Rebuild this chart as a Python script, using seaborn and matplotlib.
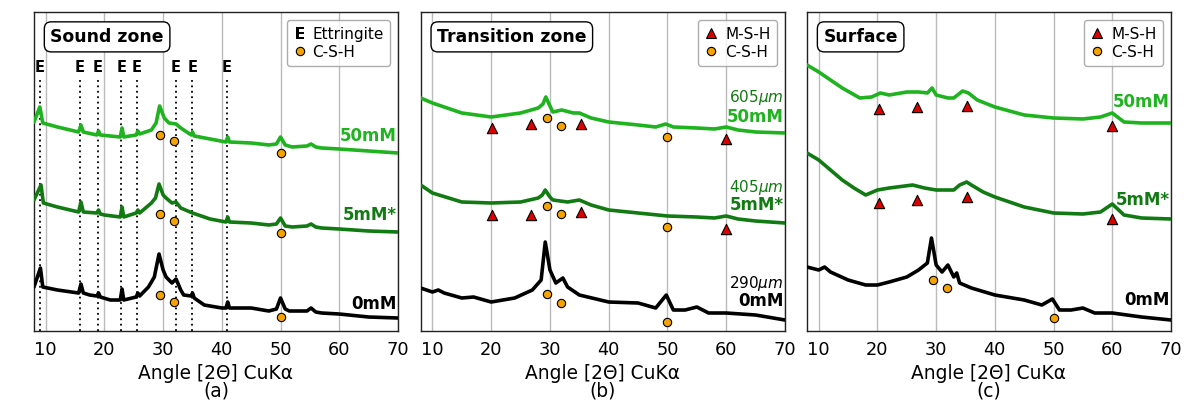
import matplotlib
matplotlib.use("Agg")
import matplotlib.pyplot as plt
import seaborn as sns
from matplotlib.lines import Line2D

# ---------------- data (arbitrary counts) ----------------
TICKS = [10, 20, 30, 40, 50, 60, 70]
E_ANGLES = [9.0, 15.8, 18.9, 22.9, 25.5, 32.2, 35.0, 40.9]
CSH_ANGLES = [29.5, 31.8, 50.0]
MSH_ANGLES = [20.2, 26.8, 35.2, 60.0]

# (a) Sound zone
SOUND_50_ANGLE = [8, 9, 9.5, 12, 15.6, 16, 16.4, 18.7, 19, 19.3, 22.7, 23, 23.3, 25.4, 25.7, 26, 28, 28.8, 29.4,
                  30.2, 31, 32.2, 33, 34.8, 35, 35.3, 38, 40.7, 41, 41.3, 45, 48, 49.3, 50, 50.8, 52, 54.5, 55.2,
                  56, 57, 60, 65, 70]
SOUND_50_COUNTS = [209, 224, 208, 204, 199, 206, 199, 196, 200, 196, 194, 203, 194, 196, 200, 197, 201, 208, 225,
                   213, 208, 207, 203, 196, 199, 195, 192, 189, 194, 189, 188, 186, 187, 194, 186, 184, 185, 187,
                   184, 183, 182, 180, 178]
SOUND_5_ANGLE = [8, 9.2, 9.6, 12, 15.6, 16, 16.4, 18.7, 19, 19.3, 20, 22.7, 23, 23.3, 25.4, 25.7, 26, 28, 28.7,
                 29.3, 30, 30.5, 31.5, 32.2, 33, 35, 38, 40.7, 41, 41.3, 45, 48, 49.3, 50, 50.8, 52, 54.5, 55.2,
                 56, 57, 60, 65, 70]
SOUND_5_COUNTS = [131, 146, 128, 124, 119, 129, 119, 118, 121, 117, 116, 114, 124, 114, 118, 121, 118, 128, 133,
                  147, 136, 133, 128, 129, 123, 118, 112, 109, 114, 109, 108, 106, 107, 113, 105, 104, 105, 107,
                  104, 103, 102, 100, 99]
SOUND_0_ANGLE = [8, 9.1, 9.5, 12, 15.6, 16, 16.4, 17.5, 18.7, 19, 19.3, 21, 22.7, 23, 23.3, 25.4, 25.7, 26, 27.5,
                 28.5, 29.3, 30, 30.5, 31.5, 32.2, 33, 33.5, 34.8, 35, 35.3, 37, 40, 40.7, 41, 41.3, 45, 48, 49.3,
                 50, 50.8, 51.5, 54.5, 55.2, 56, 57, 60, 65, 70]
SOUND_0_COUNTS = [44, 63, 44, 41, 38, 47, 38, 36, 35, 38, 34, 31, 31, 42, 31, 34, 38, 35, 44,
                  54, 77, 61, 54, 48, 52, 41, 36, 35, 38, 33, 26, 23, 23, 29, 23, 23, 20, 22,
                  33, 22, 20, 20, 23, 19, 18, 17, 14, 13]
SOUND_50_CSH = [196, 190, 178]
SOUND_5_CSH = [117, 110, 98]
SOUND_0_CSH = [36, 29, 14]

# (b) Transition zone
TRANS_50_ANGLE = [8, 10, 15, 20, 25, 28, 28.8, 29.3, 30, 30.5, 32, 34, 35, 37, 40, 45, 48, 49.7, 51, 55, 58, 60,
                  62, 65, 70]
TRANS_50_COUNTS = [233, 228, 218, 214, 218, 223, 227, 234, 225, 219, 221, 218, 218, 213, 209, 206, 204, 207, 204,
                   203, 202, 204, 201, 199, 198]
TRANS_5_ANGLE = [8, 10, 15, 20, 25, 28, 28.7, 29.2, 30, 30.5, 33, 35, 37, 40, 45, 50, 55, 58, 60, 62, 65, 70]
TRANS_5_COUNTS = [146, 138, 129, 128, 129, 133, 136, 141, 134, 131, 129, 131, 126, 121, 118, 115, 114, 113, 115,
                  112, 110, 108]
TRANS_0_ANGLE = [8, 10, 11, 12, 15, 17, 20, 24, 27, 28.5, 29.2, 30, 31, 32.2, 33, 35, 40, 45, 48, 49.8, 51, 53,
                 55, 57, 60, 65, 70]
TRANS_0_COUNTS = [43, 39, 41, 38, 33, 34, 29, 33, 41, 51, 89, 61, 48, 53, 44, 36, 29, 28, 23, 36, 21, 21,
                  24, 18, 18, 16, 11]
TRANS_50_MSH = [203, 207, 207, 192]
TRANS_5_MSH = [116, 116, 119, 102]
TRANS_50_CSH = [213, 205, 194]
TRANS_5_CSH = [125, 117, 104]
TRANS_0_CSH = [37, 28, 9]

# (c) Surface
SURF_50_ANGLE = [8, 10, 12, 14, 17, 19, 20.5, 22, 25, 27, 28.5, 29.3, 30, 32, 33, 34.5, 35.5, 37, 40, 45, 50, 55,
                 58, 60, 62, 65, 70]
SURF_50_COUNTS = [266, 259, 251, 243, 233, 234, 238, 236, 239, 239, 238, 243, 236, 233, 233, 240, 238, 231, 224,
                  216, 213, 212, 214, 218, 209, 208, 208]
SURF_5_ANGLE = [8, 10, 12, 14, 16, 18, 20, 22, 26, 28, 30, 33, 34, 35.2, 36, 38, 40, 45, 50, 55, 58, 60, 62, 65, 70]
SURF_5_COUNTS = [178, 171, 161, 151, 143, 136, 141, 143, 146, 143, 141, 141, 146, 149, 146, 139, 134, 124, 118,
                 117, 119, 127, 116, 113, 112]
SURF_0_ANGLE = [8, 10, 11, 12, 15, 18, 20, 22, 25, 27, 28.5, 29.2, 30, 31, 32, 33, 33.5, 34, 36, 40, 45, 48, 49.8,
                51, 53, 55, 57, 60, 65, 70]
SURF_0_COUNTS = [64, 61, 64, 59, 51, 46, 46, 49, 54, 61, 68, 93, 66, 59, 66, 54, 58, 48, 43, 36, 31, 26, 32,
                 21, 21, 23, 18, 18, 14, 11]
SURF_50_MSH = [222, 224, 225, 205]
SURF_5_MSH = [128, 131, 134, 112]
SURF_0_CSH = [51, 43, 13]

LIGHT = "#1fb31f"
DARK = "#127a12"
BLACK = "#000000"
ORANGE = "#f5a300"
RED = "#dd0000"

# ---------------- figure ----------------
sns.set_style("white")
plt.rcParams["font.family"] = ["DejaVu Sans"]
plt.rcParams["mathtext.fontset"] = "dejavusans"
plt.rcParams["text.color"] = "black"
plt.rcParams["axes.labelcolor"] = "black"
plt.rcParams["xtick.color"] = "black"

fig = plt.figure(figsize=(11.84, 4.05), dpi=100)
positions = [(0.0287, 0.1827, 0.3074, 0.7877),
             (0.3553, 0.1827, 0.3077, 0.7877),
             (0.6816, 0.1827, 0.3074, 0.7877)]
axes = [fig.add_axes(p) for p in positions]

LW = 2.6


def line(ax, x, y, c):
    sns.lineplot(x=x, y=y, ax=ax, color=c, lw=LW, sort=False, estimator=None, zorder=3)


def csh(ax, y):
    sns.scatterplot(x=CSH_ANGLES, y=y, ax=ax, marker="o", s=36, color=ORANGE,
                    edgecolor="black", linewidth=0.8, zorder=5)


def msh(ax, y):
    sns.scatterplot(x=MSH_ANGLES, y=y, ax=ax, marker="^", s=55, color=RED,
                    edgecolor="black", linewidth=0.8, zorder=5)


def setup(ax, letter, title):
    ax.set_xlim(8, 70)
    ax.set_ylim(0, 319)
    ax.set_xticks(TICKS)
    ax.set_xticklabels([str(t) for t in TICKS], fontsize=12.8)
    ax.set_yticks([])
    ax.grid(axis="x", color="#bbbbbb", lw=1.0, zorder=0)
    ax.set_axisbelow(True)
    ax.tick_params(axis="x", direction="out", length=4, width=1, colors="black", pad=3.5)
    for s in ax.spines.values():
        s.set_color("#222222")
        s.set_linewidth(1.0)
    ax.set_xlabel("Angle [2Θ] CuKα\n(" + letter + ")", fontsize=13.4, linespacing=0.95, labelpad=3,
                  color="black")
    ax.text(0.045, 0.922, title, transform=ax.transAxes, fontsize=12.4, fontweight="bold",
            va="center", ha="left", zorder=10, color="black",
            bbox=dict(boxstyle="round,pad=0.35,rounding_size=0.4", fc="white", ec="black", lw=1.0))


def label(ax, y, txt, c, bold=True, size=12):
    ax.text(69.8, y, txt, color=c, fontsize=size, fontweight="bold" if bold else "normal",
            ha="right", va="center", zorder=6)


# (a)
ax = axes[0]
setup(ax, "a", "Sound zone")
for e in E_ANGLES:
    ax.plot([e, e], [0, 253], ls=(0, (1, 2)), color="black", lw=1.3, zorder=2)
    ax.text(e, 263, "E", fontsize=10.5, fontweight="bold", ha="center", va="center", color="black")
line(ax, SOUND_50_ANGLE, SOUND_50_COUNTS, LIGHT)
line(ax, SOUND_5_ANGLE, SOUND_5_COUNTS, DARK)
line(ax, SOUND_0_ANGLE, SOUND_0_COUNTS, BLACK)
csh(ax, SOUND_50_CSH)
csh(ax, SOUND_5_CSH)
csh(ax, SOUND_0_CSH)
label(ax, 195, "50mM", LIGHT)
label(ax, 116, "5mM*", DARK)
label(ax, 27, "0mM", BLACK)
ax.set_ylabel("Counts [a.u.]", fontsize=12.8, labelpad=4, color="black")
h_a = [Line2D([], [], ls="none", marker="$\\mathbf{E}$", color="black", mew=0, markersize=9),
       Line2D([], [], ls="none", marker="o", mfc=ORANGE, mec="black", mew=0.8, markersize=6)]
leg = ax.legend(h_a, ["Ettringite", "C-S-H"], loc="upper right", fontsize=11, handlelength=0.8,
                handletextpad=0.4, borderpad=0.45, labelspacing=0.2, frameon=True, fancybox=True)
leg.get_frame().set_edgecolor("#999999")
leg.set_zorder(10)

# (b)
ax = axes[1]
setup(ax, "b", "Transition zone")
line(ax, TRANS_50_ANGLE, TRANS_50_COUNTS, LIGHT)
line(ax, TRANS_5_ANGLE, TRANS_5_COUNTS, DARK)
line(ax, TRANS_0_ANGLE, TRANS_0_COUNTS, BLACK)
msh(ax, TRANS_50_MSH)
msh(ax, TRANS_5_MSH)
csh(ax, TRANS_50_CSH)
csh(ax, TRANS_5_CSH)
csh(ax, TRANS_0_CSH)
label(ax, 233, "605$\\mu m$", DARK, bold=False, size=11)
label(ax, 214, "50mM", LIGHT)
label(ax, 143, "405$\\mu m$", DARK, bold=False, size=11)
label(ax, 126, "5mM*", DARK)
label(ax, 48, "290$\\mu m$", BLACK, bold=False, size=11)
label(ax, 30, "0mM", BLACK)

# (c)
ax = axes[2]
setup(ax, "c", "Surface")
line(ax, SURF_50_ANGLE, SURF_50_COUNTS, LIGHT)
line(ax, SURF_5_ANGLE, SURF_5_COUNTS, DARK)
line(ax, SURF_0_ANGLE, SURF_0_COUNTS, BLACK)
msh(ax, SURF_50_MSH)
msh(ax, SURF_5_MSH)
csh(ax, SURF_0_CSH)
label(ax, 229, "50mM", LIGHT)
label(ax, 131, "5mM*", DARK)
label(ax, 31, "0mM", BLACK)

for ax in axes[1:]:
    h = [Line2D([], [], ls="none", marker="^", mfc=RED, mec="black", mew=0.8, markersize=7),
         Line2D([], [], ls="none", marker="o", mfc=ORANGE, mec="black", mew=0.8, markersize=6)]
    lg = ax.legend(h, ["M-S-H", "C-S-H"], loc="upper right", fontsize=11, handlelength=0.8,
                   handletextpad=0.5, borderpad=0.45, labelspacing=0.2, frameon=True, fancybox=True)
    lg.get_frame().set_edgecolor("#999999")
    lg.set_zorder(10)

fig.savefig("out.png", dpi=100)
